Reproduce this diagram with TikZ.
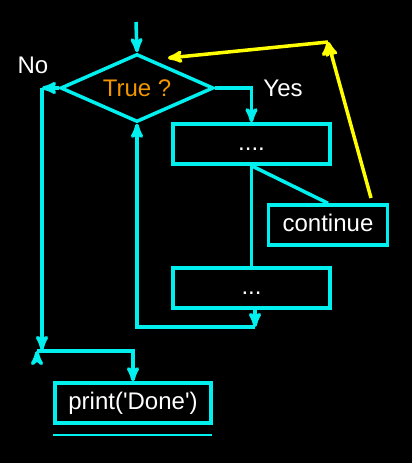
\documentclass[tikz,border=0pt]{standalone}
\usepackage{fontspec}
\setmainfont{Liberation Sans}
\usepackage{tikz}
\usetikzlibrary{shapes.geometric, positioning, arrows}
\definecolor{flow}{RGB}{0,240,240}
\definecolor{loopback}{RGB}{255,255,0}
\definecolor{cond}{RGB}{240,150,0}
\tikzset{
->, % every connector is directed
>=stealth', % arrow heads
every node/.style={font=\fontsize{24}{28}\selectfont, text=white}, % labels
block/.style={draw=flow, rectangle, minimum width=157pt, minimum height=40pt, text height=17pt, text depth=5pt, inner sep=0pt}, % process boxes
test/.style={draw=flow, diamond, aspect=2.25, minimum width=153pt, minimum height=68pt, inner sep=0pt, text=cond}, % the question
}

\begin{document}
\begin{tikzpicture}[x=1pt, y=-1pt, line width=3.5pt]
\fill[black] (0,0) rectangle (412,463);
\node[test] (q) at (137,88) {True ?};
\node[block] (b1) at (251.5,144) {....};
\node[block] (b2) at (251.5,288) {...};
\node[block, minimum width=119pt] (c) at (328,225) {continue};
\node[block, minimum width=156pt] (d) at (133,403) {print(\textquotesingle Done\textquotesingle)};
\node (no) at (33,65) {No};
\node (yes) at (283,88) {Yes};
\coordinate (start) at (136,22);
\coordinate (up) at (371,198);
\coordinate (turn) at (328,42);
\coordinate (back) at (168,58);
\coordinate (j2) at (255,327);
\coordinate (nol) at (42,88);
\coordinate (nod) at (42,350);
\coordinate (j1) at (37,351);
\draw[flow]
(start) edge (q.north)
(q.east) edge[to path={-| (\tikztotarget)}] (b1.north)
(b1.south) edge[-] (b2.north)
(b1.south) edge[-] (c.north)
([xshift=3.5pt]b2.south) edge (j2)
(j2) edge[to path={-| (\tikztotarget)}] (q.south)
(q.west) edge (nol)
(nol) edge (nod)
(j1) edge[to path={-| (\tikztotarget)}] (d.north)
;
\draw[loopback]
(up) edge (turn)
(turn) edge (back)
;
\draw[flow, -, line width=2pt] ([yshift=-10pt]d.south west) -- ++(159,0);
\end{tikzpicture}
\end{document}
